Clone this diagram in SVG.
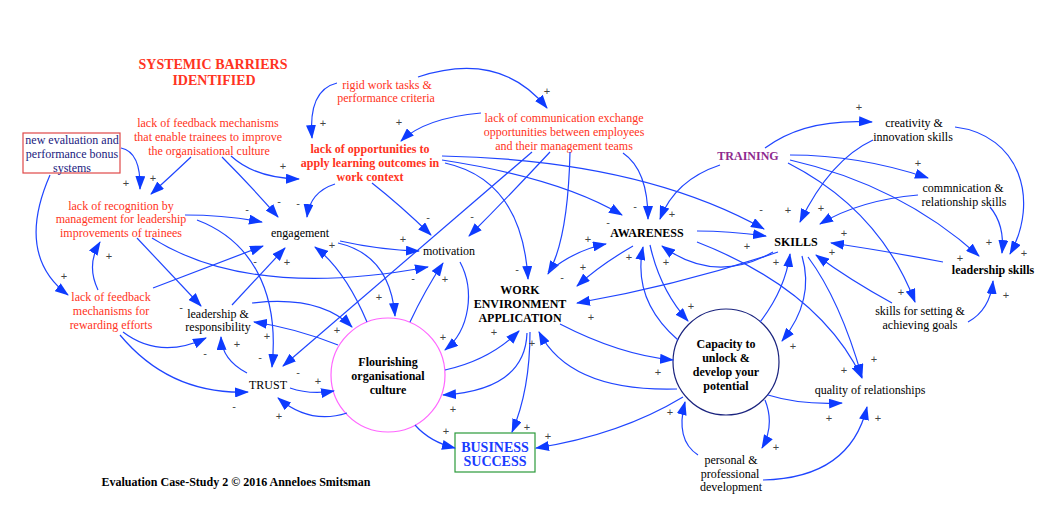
<svg xmlns="http://www.w3.org/2000/svg" width="1061" height="506" viewBox="0 0 1061 506">
<style>
text{font-family:"Liberation Serif","Times New Roman",serif;font-size:12px;text-anchor:middle}
.red{fill:#ff3322}
.b{font-weight:bold}
.lbl text{font-family:"Liberation Sans",Arial,sans-serif;font-size:11px;fill:#444}
.c path{fill:none;stroke:#1f45ff;stroke-width:1.2;marker-end:url(#ah)}
</style>
<defs>
<marker id="ah" viewBox="0 0 14 10" refX="13" refY="5" markerWidth="14" markerHeight="10" markerUnits="userSpaceOnUse" orient="auto">
<path d="M0,0 L14,5 L0,10 z" fill="#0d3bff"/>
</marker>
</defs>
<rect width="1061" height="506" fill="#fff"/>

<g id="title"><text class="red b" x="213" y="69" style="font-size:14px">SYSTEMIC BARRIERS</text><text class="red b" x="214" y="85" style="font-size:14px">IDENTIFIED</text></g>

<g id="new-eval"><rect x="23" y="133" width="97" height="40" fill="#fff" stroke="#e04848" stroke-width="1.2"/><text x="72" y="144" fill="#1a1a80">new evaluation and</text><text x="72" y="158" fill="#1a1a80">performance bonus</text><text x="72" y="172" fill="#1a1a80">systems</text></g>

<g id="lack-feedback-culture"><text class="red" x="208" y="127">lack of feedback mechanisms</text><text class="red" x="208" y="141">that enable trainees to improve</text><text class="red" x="209" y="155">the organisational culture</text></g>

<g id="rigid"><text class="red" x="387" y="89">rigid work tasks &amp;</text><text class="red" x="386" y="102">performance criteria</text></g>

<g id="lack-communication"><text class="red" x="564" y="122">lack of communication exchange</text><text class="red" x="564" y="136">opportunities between employees</text><text class="red" x="564" y="150">and their management teams</text></g>

<g id="lack-opportunities"><text class="red b" x="370" y="153">lack of opportunities to</text><text class="red b" x="370" y="167">apply learning outcomes in</text><text class="red b" x="370" y="181">work context</text></g>

<g id="lack-recognition"><text class="red" x="121" y="210">lack of recognition by</text><text class="red" x="121" y="223">management for leadership</text><text class="red" x="121" y="237">improvements of trainees</text></g>

<g id="lack-feedback-rewarding"><text class="red" x="111" y="301">lack of feedback</text><text class="red" x="111" y="315">mechanisms for</text><text class="red" x="111" y="329">rewarding efforts</text></g>

<g id="engagement"><text x="300" y="237">engagement</text></g>
<g id="motivation"><text x="449" y="255">motivation</text></g>
<g id="leadership-responsibility"><text x="218" y="318">leadership &amp;</text><text x="218" y="331">responsibility</text></g>
<g id="trust"><text x="268" y="389">TRUST</text></g>

<g id="flourishing"><circle cx="388" cy="375" r="57" fill="#fff" stroke="#ff66ff" stroke-width="1.2"/><text class="b" x="388" y="366">Flourishing</text><text class="b" x="388" y="380">organisational</text><text class="b" x="388" y="394">culture</text></g>

<g id="work-env"><text class="b" x="520" y="294">WORK</text><text class="b" x="520" y="308">ENVIRONMENT</text><text class="b" x="520" y="322">APPLICATION</text></g>

<g id="business"><rect x="455" y="433" width="80" height="39" fill="#fff" stroke="#2a9a3a" stroke-width="1.2"/><text class="b" x="495" y="452" fill="#1a3cff" style="font-size:14px">BUSINESS</text><text class="b" x="495" y="466" fill="#1a3cff" style="font-size:14px">SUCCESS</text></g>

<g id="awareness"><text class="b" x="647" y="237">AWARENESS</text></g>
<g id="training"><text class="b" x="748" y="160" fill="#8e2a8e">TRAINING</text></g>
<g id="skills"><text class="b" x="796" y="246">SKILLS</text></g>
<g id="creativity"><text x="914" y="127">creativity &amp;</text><text x="913" y="141">innovation skills</text></g>
<g id="communication-skills"><text x="963" y="192">commnication &amp;</text><text x="964" y="206">relationship skills</text></g>
<g id="leadership-skills"><text class="b" x="993" y="274">leadership skills</text></g>
<g id="goals"><text x="920" y="315">skills for setting &amp;</text><text x="920" y="329">achieving goals</text></g>

<g id="capacity"><circle cx="726" cy="362" r="53" fill="#fff" stroke="#1a237e" stroke-width="1.2"/><text class="b" x="726" y="348">Capacity to</text><text class="b" x="726" y="362">unlock &amp;</text><text class="b" x="726" y="376">develop your</text><text class="b" x="726" y="390">potential</text></g>

<g id="quality"><text x="870" y="394">quality of relationships</text></g>
<g id="personal"><text x="731" y="464">personal &amp;</text><text x="730" y="478">professional</text><text x="731" y="491">development</text></g>

<g id="footer"><text class="b" x="236" y="486">Evaluation Case-Study 2 © 2016 Anneloes Smitsman</text></g>

<g id="connectors" class="c">
<path d="M121,148 Q141,152 140,189"/>
<path d="M50,175 Q15,255 68,295"/>
<path d="M191,157 Q172,175 151,194"/>
<path d="M222,157 Q250,185 278,217"/>
<path d="M231,156 Q255,178 299,179"/>
<path d="M337,83 Q308,90 312,138"/>
<path d="M418,77 Q500,50 547,108"/>
<path d="M481,113 Q425,118 401,141"/>
<path d="M623,153 Q648,170 648,219"/>
<path d="M720,165 Q675,180 660,219"/>
<path d="M442,160 Q560,178 622,215"/>
<path d="M442,156 Q640,160 764,229"/>
<path d="M445,163 Q522,180 528,279"/>
<path d="M372,183 Q400,205 431,235"/>
<path d="M335,184 Q310,192 307,217"/>
<path d="M532,152 L283,366"/>
<path d="M550,152 Q510,195 469,236"/>
<path d="M570,152 Q568,240 548,274"/>
<path d="M765,148 Q805,118 872,122"/>
<path d="M873,140 Q830,160 800,222"/>
<path d="M955,127 C1020,135 1040,200 1010,254"/>
<path d="M790,155 Q860,155 928,178"/>
<path d="M918,195 Q860,200 820,224"/>
<path d="M990,207 Q1005,225 1002,253"/>
<path d="M790,160 Q900,185 979,256"/>
<path d="M788,163 Q880,210 915,302"/>
<path d="M943,262 Q880,250 831,243"/>
<path d="M892,303 Q850,280 816,255"/>
<path d="M968,322 Q990,310 993,281"/>
<path d="M778,252 Q680,285 577,303"/>
<path d="M773,252 Q715,285 662,246"/>
<path d="M697,231 Q730,231 766,236"/>
<path d="M633,246 Q600,265 577,286"/>
<path d="M548,272 Q575,250 606,244"/>
<path d="M650,245 Q660,290 688,321"/>
<path d="M678,340 Q632,300 643,247"/>
<path d="M697,242 Q820,290 862,378"/>
<path d="M808,257 Q840,300 862,377"/>
<path d="M802,256 Q815,300 782,341"/>
<path d="M760,322 Q785,290 790,254"/>
<path d="M560,324 Q620,355 673,360"/>
<path d="M677,389 Q570,392 539,332"/>
<path d="M527,333 Q525,390 443,395"/>
<path d="M445,370 Q490,360 519,331"/>
<path d="M530,332 Q530,390 512,432"/>
<path d="M415,425 Q430,442 455,448"/>
<path d="M683,397 Q620,435 536,448"/>
<path d="M765,400 Q775,425 762,448"/>
<path d="M698,455 Q675,440 685,402"/>
<path d="M763,480 Q850,478 867,407"/>
<path d="M768,395 Q800,405 842,403"/>
<path d="M347,413 Q310,425 278,398"/>
<path d="M290,388 Q310,395 334,391"/>
<path d="M367,322 Q345,270 315,247"/>
<path d="M338,243 Q390,255 395,316"/>
<path d="M340,241 Q380,250 419,251"/>
<path d="M410,322 Q425,290 443,263"/>
<path d="M460,262 C475,290 470,330 445,350"/>
<path d="M152,238 Q250,300 428,267"/>
<path d="M185,215 Q225,215 262,222"/>
<path d="M137,238 L201,306"/>
<path d="M197,220 C250,240 280,290 272,367"/>
<path d="M98,290 Q86,265 100,242"/>
<path d="M153,288 L263,246"/>
<path d="M123,332 Q160,360 206,338"/>
<path d="M120,335 Q170,395 248,392"/>
<path d="M247,373 Q222,360 221,337"/>
<path d="M232,305 L285,248"/>
<path d="M252,303 Q320,295 352,327"/>
<path d="M338,345 Q295,328 254,322"/>
</g>

<g id="polarity" class="lbl">
<text x="126" y="187">+</text><text x="153" y="182">+</text><text x="64" y="280">+</text><text x="109" y="260">+</text>
<text x="323" y="127">+</text><text x="399" y="126">+</text><text x="283" y="170">+</text><text x="547" y="95">+</text>
<text x="859" y="111">+</text><text x="918" y="167">+</text><text x="788" y="214">+</text><text x="821" y="212">+</text>
<text x="989" y="246">+</text><text x="1024" y="257">+</text><text x="960" y="262">+</text><text x="1006" y="299">+</text>
<text x="844" y="237">+</text><text x="832" y="256">+</text><text x="901" y="296">+</text><text x="672" y="218">+</text>
<text x="588" y="243">+</text><text x="583" y="271">+</text><text x="629" y="261">+</text><text x="666" y="266">+</text>
<text x="691" y="310">+</text><text x="747" y="250">+</text><text x="776" y="266">+</text><text x="591" y="321">+</text>
<text x="403" y="243">+</text><text x="332" y="249">+</text><text x="287" y="266">+</text><text x="379" y="301">+</text>
<text x="445" y="283">+</text><text x="267" y="340">+</text><text x="337" y="334">+</text><text x="443" y="341">+</text>
<text x="494" y="336">+</text><text x="237" y="348">+</text><text x="318" y="385">+</text><text x="279" y="420">+</text>
<text x="453" y="413">+</text><text x="446" y="435">+</text><text x="527" y="431">+</text><text x="532" y="347">+</text>
<text x="548" y="440">+</text><text x="658" y="376">+</text><text x="670" y="416">+</text><text x="776" y="451">+</text>
<text x="793" y="350">+</text><text x="874" y="363">+</text><text x="844" y="374">+</text><text x="829" y="422">+</text>
<text x="878" y="422">+</text>
<text x="247" y="213">-</text><text x="255" y="265">-</text><text x="181" y="311">-</text><text x="205" y="357">-</text>
<text x="260" y="361">-</text><text x="234" y="410">-</text><text x="279" y="205">-</text><text x="298" y="207">-</text>
<text x="428" y="221">-</text><text x="472" y="220">-</text><text x="413" y="282">-</text><text x="517" y="273">-</text>
<text x="298" y="376">-</text><text x="635" y="210">-</text><text x="608" y="226">-</text><text x="562" y="281">-</text>
<text x="761" y="213">-</text>
</g>
</svg>
